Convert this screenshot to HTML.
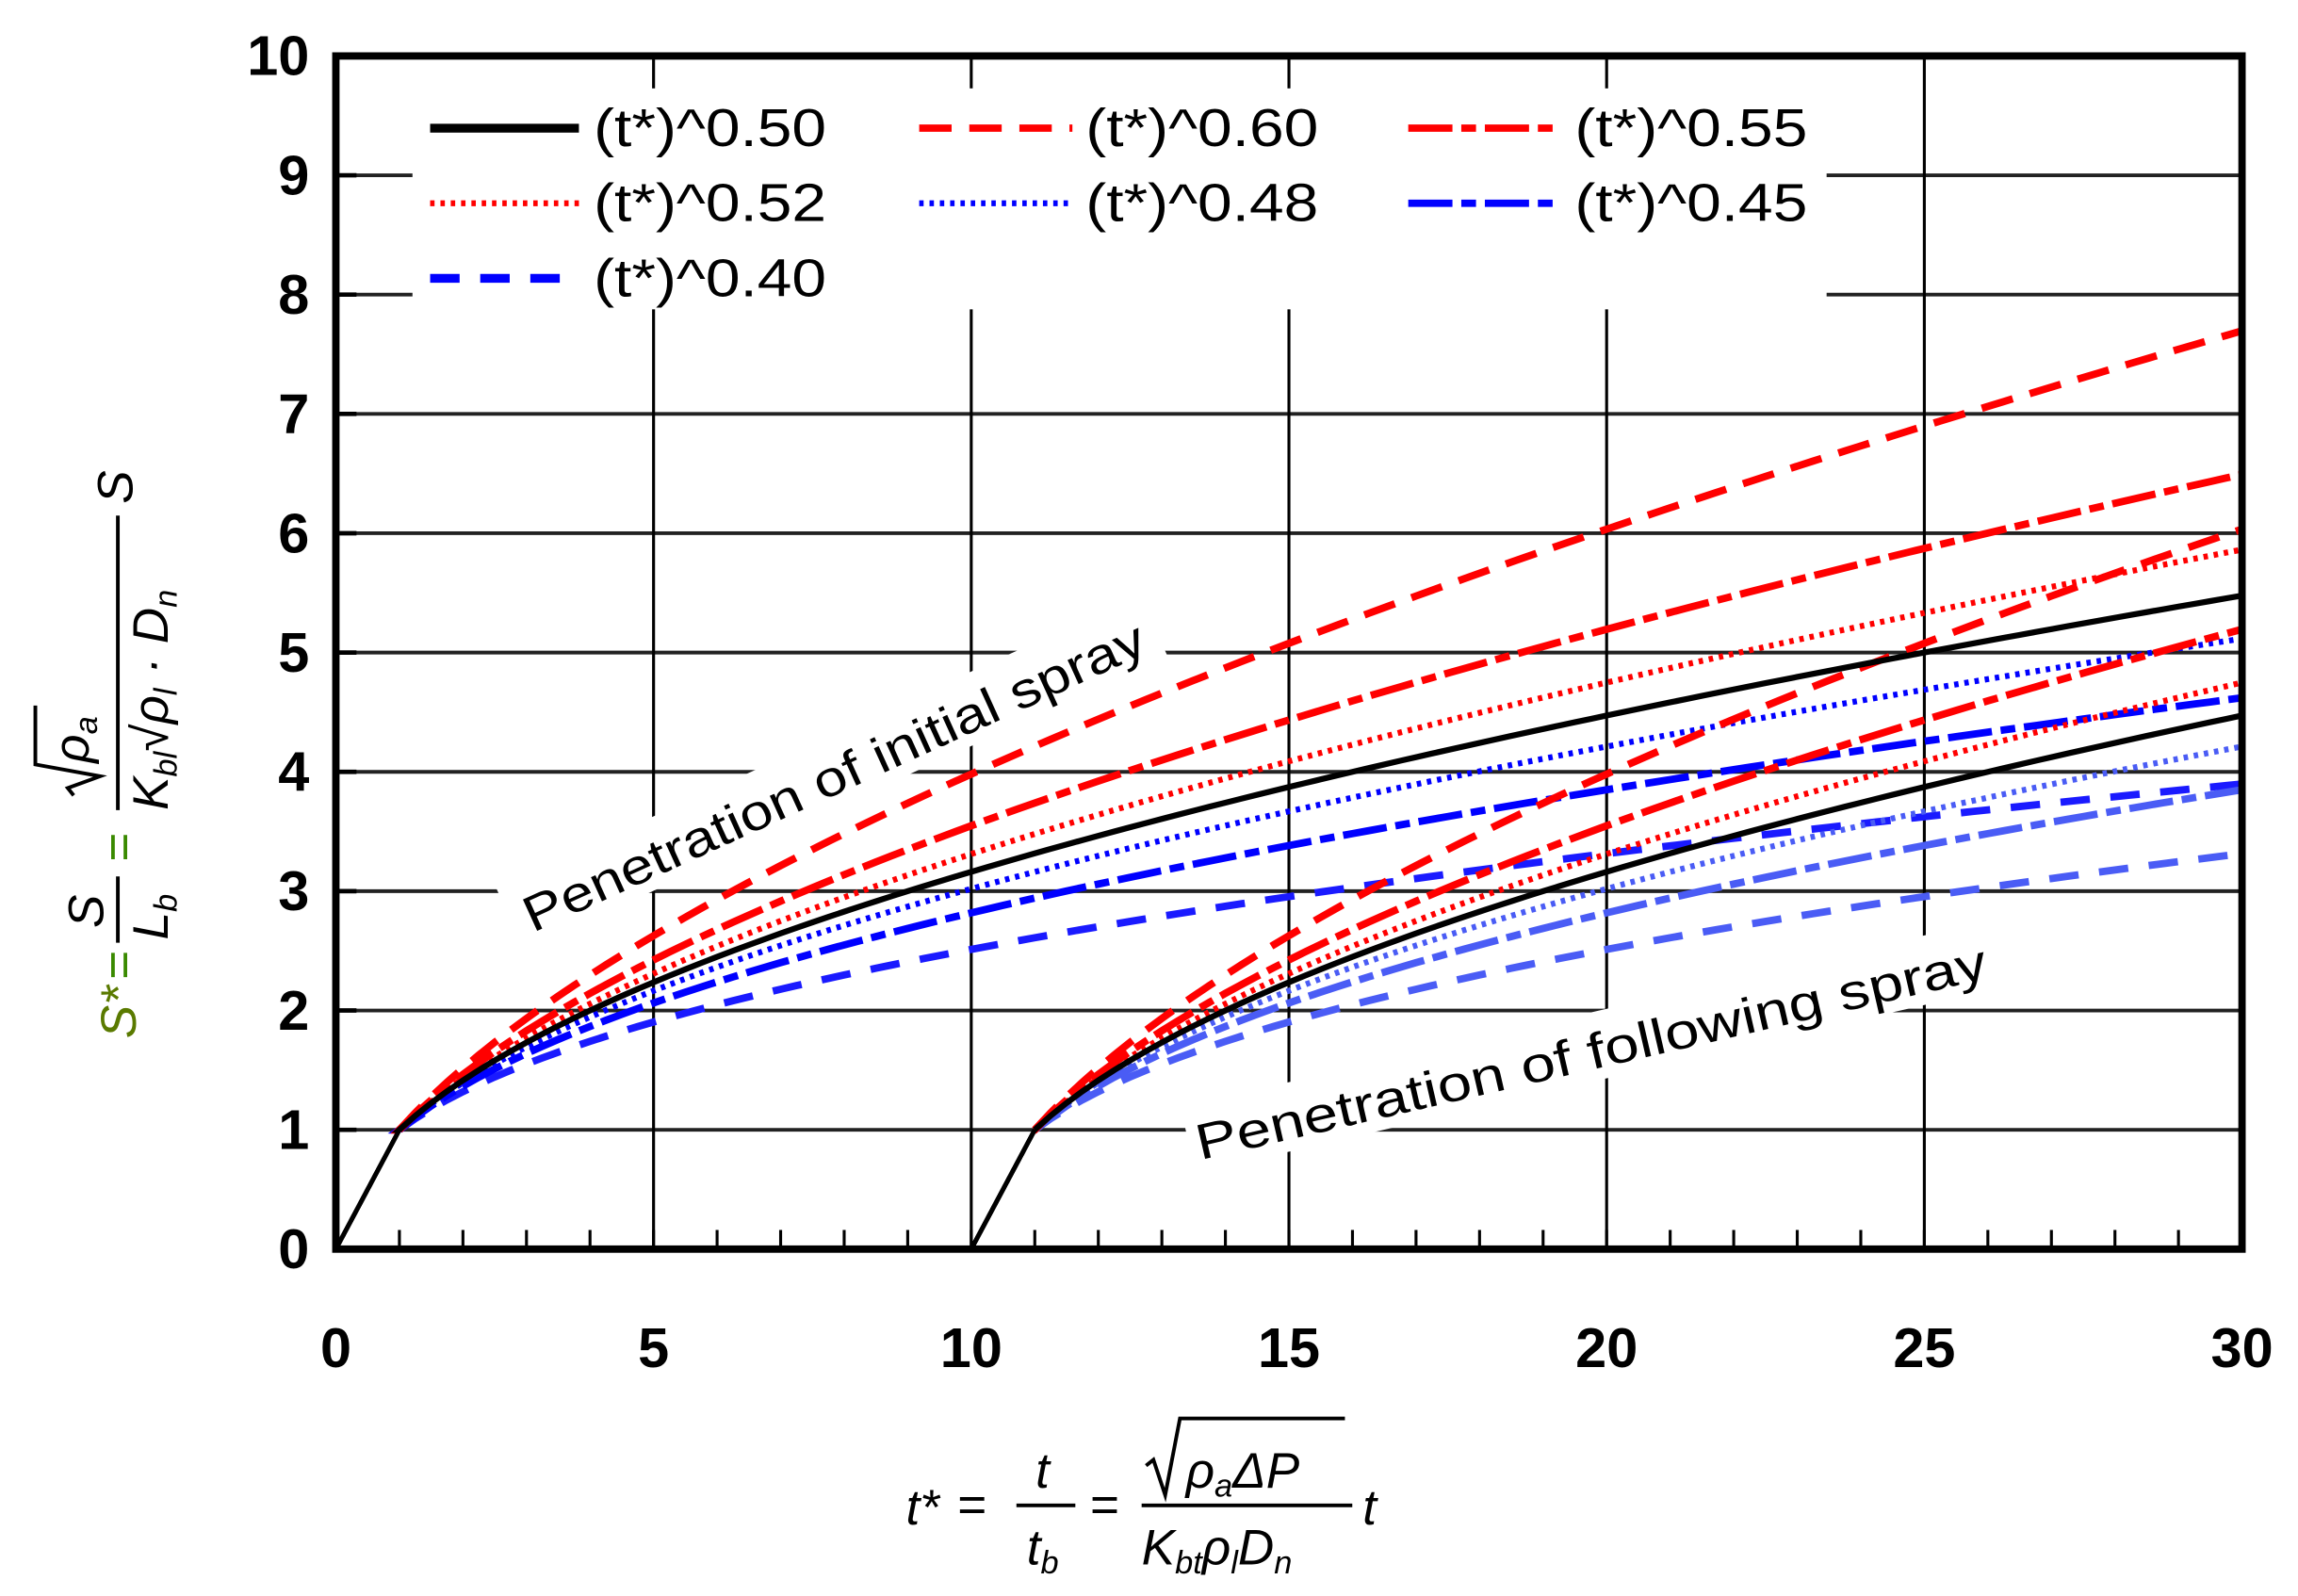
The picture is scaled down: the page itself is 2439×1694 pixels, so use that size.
<!DOCTYPE html>
<html><head><meta charset="utf-8"><style>
html,body{margin:0;padding:0;background:#fff;}
svg{display:block;}
text{font-family:"Liberation Sans",sans-serif;}
</style></head><body>
<svg id="s" width="2439" height="1694" viewBox="0 0 1560 1083.5" xmlns="http://www.w3.org/2000/svg">
<rect width="1560" height="1084" fill="#fff"/>
<g id="grid"></g>
<g id="curves"></g>
<g id="axes"></g>
<!-- legend -->
<g font-size="36" fill="#000">
<rect x="280" y="60" width="960" height="150" fill="#fff"/>
<line x1="292" y1="87" x2="393" y2="87" stroke="#000" stroke-width="6"/>
<text x="403" y="99" textLength="158" lengthAdjust="spacingAndGlyphs">(t*)^0.50</text>
<line x1="624" y1="87" x2="728" y2="87" stroke="#f00" stroke-width="5" stroke-dasharray="22,12"/>
<text x="737" y="99" textLength="158" lengthAdjust="spacingAndGlyphs">(t*)^0.60</text>
<line x1="956" y1="87" x2="1060" y2="87" stroke="#f00" stroke-width="5" stroke-dasharray="30,6,10,6"/>
<text x="1069" y="99" textLength="158" lengthAdjust="spacingAndGlyphs">(t*)^0.55</text>
<line x1="292" y1="138" x2="393" y2="138" stroke="#f00" stroke-width="4" stroke-dasharray="3,4"/>
<text x="403" y="150" textLength="158" lengthAdjust="spacingAndGlyphs">(t*)^0.52</text>
<line x1="624" y1="138" x2="728" y2="138" stroke="#00f" stroke-width="4" stroke-dasharray="3,4"/>
<text x="737" y="150" textLength="158" lengthAdjust="spacingAndGlyphs">(t*)^0.48</text>
<line x1="956" y1="138" x2="1060" y2="138" stroke="#00f" stroke-width="5" stroke-dasharray="30,6,10,6"/>
<text x="1069" y="150" textLength="158" lengthAdjust="spacingAndGlyphs">(t*)^0.45</text>
<line x1="292" y1="189" x2="393" y2="189" stroke="#00f" stroke-width="6" stroke-dasharray="20,14"/>
<text x="403" y="201" textLength="158" lengthAdjust="spacingAndGlyphs">(t*)^0.40</text>
</g>
<!-- annotations -->
<g transform="translate(566,527) rotate(-24.5)">
<rect x="-240" y="-26" width="480" height="46" fill="#fff"/>
<text x="0" y="12" font-size="34" text-anchor="middle" textLength="460" lengthAdjust="spacingAndGlyphs">Penetration of initial spray</text>
</g>
<g transform="translate(1080,714) rotate(-13)">
<rect x="-280" y="-26" width="560" height="46" fill="#fff"/>
<text x="0" y="12" font-size="34" text-anchor="middle" textLength="550" lengthAdjust="spacingAndGlyphs">Penetration of following spray</text>
</g>
<g id="labels" font-size="38" font-weight="bold" fill="#000"></g>
<!-- x label -->
<g font-family="Liberation Serif" font-style="italic" font-size="34" fill="#000">
<text x="615" y="1035">t*</text>
<text x="650" y="1033" font-style="normal">=</text>
<text x="703" y="1010">t</text>
<line x1="690" y1="1022" x2="730" y2="1022" stroke="#000" stroke-width="2.5"/>
<text x="697" y="1062">t<tspan font-size="22" dy="6">b</tspan></text>
<text x="740" y="1033" font-style="normal">=</text>
<path d="M778 995 l5 -4 l8 24 l10 -52 h112" fill="none" stroke="#000" stroke-width="2.5"/>
<text x="805" y="1010">ρ<tspan font-size="22" dy="6">a</tspan><tspan dy="-6">ΔP</tspan></text>
<line x1="775" y1="1022" x2="918" y2="1022" stroke="#000" stroke-width="2.5"/>
<text x="775" y="1062">K<tspan font-size="22" dy="6">bt</tspan><tspan dy="-6">ρ</tspan><tspan font-size="22" dy="6">l</tspan><tspan dy="-6">D</tspan><tspan font-size="22" dy="6">n</tspan></text>
<text x="925" y="1035">t</text>
</g>
<!-- y label -->
<g transform="translate(80,430) rotate(-90)" font-family="Liberation Serif" font-style="italic" font-size="34">
<text x="-275" y="12" fill="#5a7a00">S*</text>
<text x="-235" y="12" font-style="normal" fill="#3a8a00">=</text>
<text x="-200" y="-10" fill="#000">S</text>
<line x1="-210" y1="0" x2="-165" y2="0" stroke="#000" stroke-width="2.5"/>
<text x="-208" y="34" fill="#000">L<tspan font-size="22" dy="6">b</tspan></text>
<text x="-155" y="12" font-style="normal" fill="#3a8a00">=</text>
<path d="M-110 -30 l5 -4 l8 22 l8 -44 h40" fill="none" stroke="#000" stroke-width="2.5"/>
<text x="-88" y="-20" fill="#000">ρ<tspan font-size="22" dy="6">a</tspan></text>
<line x1="-120" y1="0" x2="80" y2="0" stroke="#000" stroke-width="2.5"/>
<text x="-120" y="34" fill="#000">K<tspan font-size="22" dy="6">bl</tspan><tspan dy="-6">√ρ</tspan><tspan font-size="22" dy="6">l</tspan><tspan dy="-6"> · D</tspan><tspan font-size="22" dy="6">n</tspan></text>
<text x="88" y="10" fill="#000">S</text>
</g>
</svg>
<script>
var L=228,R=1522,T=38,B=848;
function X(t){return L+(R-L)*t/30;}
function Y(v){return B-(B-T)*v/10;}
var ns="http://www.w3.org/2000/svg";
function el(p,n,a){var e=document.createElementNS(ns,n);for(var k in a)e.setAttribute(k,a[k]);p.appendChild(e);return e;}
var g=document.getElementById('grid');
for(var i=1;i<10;i++){el(g,'line',{x1:L,y1:Y(i),x2:R,y2:Y(i),stroke:'#222','stroke-width':2.5});}
for(var t=5;t<30;t+=5){el(g,'line',{x1:X(t),y1:T,x2:X(t),y2:B,stroke:'#000','stroke-width':2});}
for(var t=1;t<30;t++){el(g,'line',{x1:X(t),y1:B,x2:X(t),y2:B-13,stroke:'#000','stroke-width':2});}
for(var i=1;i<10;i++){el(g,'line',{x1:L,y1:Y(i),x2:L+14,y2:Y(i),stroke:'#000','stroke-width':3});}
var c=document.getElementById('curves');
var S=[[0.40,'#1a1aff',5,'20,14'],[0.45,'#0000ff',5,'30,6,10,6'],[0.48,'#0000ff',4,'3,4'],[0.52,'#ff0000',4,'3,4'],[0.55,'#ff0000',5,'30,6,10,6'],[0.60,'#ff0000',5,'22,12'],[0.50,'#000',4,'']];
S.forEach(function(s){
 [0,10].forEach(function(o){
  var d='M'+X(o+1)+' '+Y(1);
  for(var t=o+1;t<=30.001;t+=0.25){d+=' L'+X(t).toFixed(2)+' '+Y(Math.pow(t-o,s[0])).toFixed(2);}
  var a={d:d,fill:'none',stroke:(o==10&&s[1]!='#000'&&s[1]!='#ff0000')?'#4a5cf5':s[1],'stroke-width':s[2]};
  if(s[3])a['stroke-dasharray']=s[3];
  el(c,'path',a);
  el(c,'line',{x1:X(o),y1:Y(0),x2:X(o+1),y2:Y(1),stroke:'#000','stroke-width':3});
 });
});
var ax=document.getElementById('axes');
el(ax,'rect',{x:L,y:T,width:R-L,height:B-T,fill:'none',stroke:'#000','stroke-width':5});
var lb=document.getElementById('labels');
for(var i=0;i<=10;i++){var e=el(lb,'text',{x:L-18,y:Y(i)+13,'text-anchor':'end'});e.textContent=i;}
for(var t=0;t<=30;t+=5){var e=el(lb,'text',{x:X(t),y:928,'text-anchor':'middle'});e.textContent=t;}
</script>
</body></html>
